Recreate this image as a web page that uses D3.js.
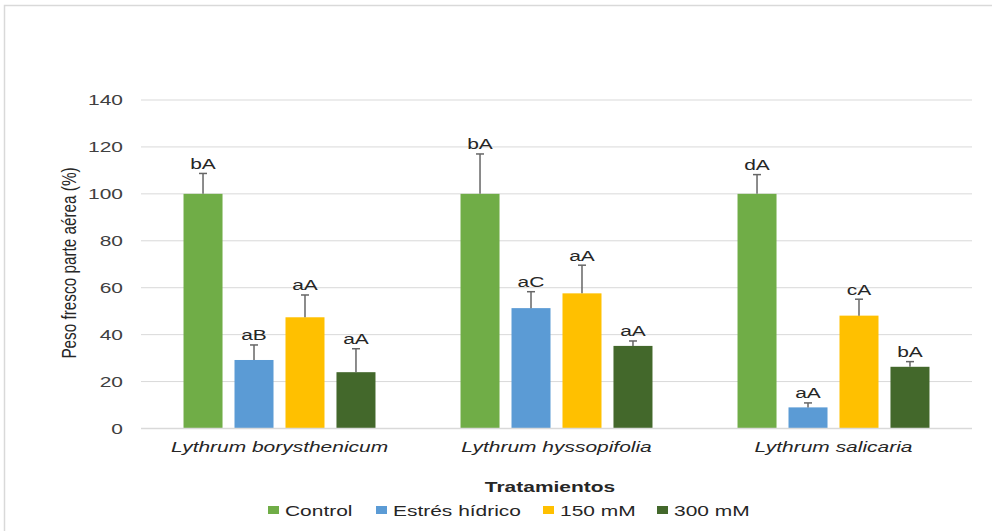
<!DOCTYPE html>
<html>
<head>
<meta charset="utf-8">
<script src="https://cdn.jsdelivr.net/npm/d3@7"></script>
<style>
  html, body { margin: 0; padding: 0; background: #fff; }
  svg { display: block; font-family: "Liberation Sans", Arial, sans-serif; }
</style>
</head>
<body>
<svg id="chart" width="992" height="531"></svg>
<script>
// Species (x groups) and treatments (series)
const species = ["Lythrum borysthenicum", "Lythrum hyssopifolia", "Lythrum salicaria"];
const treatments = ["Control", "Estrés hídrico", "150 mM", "300 mM"];
const colors = ["#70AD47", "#5B9BD5", "#FFC000", "#43682B"];

// Fresh weight of the aerial part (%) per treatment, one entry per species
const controlValues = [100, 100, 100];
const droughtValues = [29.2, 51.3, 9.0];
const salt150Values = [47.4, 57.6, 48.1];
const salt300Values = [24.0, 35.2, 26.3];

// Error bar sizes (upper)
const controlErr = [8.7, 17.0, 8.2];
const droughtErr = [6.4, 7.0, 1.9];
const salt150Err = [9.5, 12.0, 7.0];
const salt300Err = [10.0, 2.1, 2.2];

// Significance letters
const controlLetters = ["bA", "bA", "dA"];
const droughtLetters = ["aB", "aC", "aA"];
const salt150Letters = ["aA", "aA", "cA"];
const salt300Letters = ["aA", "aA", "bA"];

const yTicks = [0, 20, 40, 60, 80, 100, 120, 140];

const seriesValues = [controlValues, droughtValues, salt150Values, salt300Values];
const seriesErr = [controlErr, droughtErr, salt150Err, salt300Err];
const seriesLetters = [controlLetters, droughtLetters, salt150Letters, salt300Letters];

// Text is drawn horizontally widened
const SX = 1.36;
const FS = 15.4;
const TXT = "#262626";

const svg = d3.select("#chart");

// Outer chart frame (top and left edges)
svg.append("path")
  .attr("d", "M4.5,531 L4.5,5.5 L992,5.5")
  .attr("fill", "none")
  .attr("stroke", "#d9d9d9")
  .attr("stroke-width", 1.5);

const plot = { left: 141, right: 972, top: 100, bottom: 428.5 };

const y = d3.scaleLinear().domain([0, 140]).range([plot.bottom, plot.top]);
const x0 = d3.scaleBand().domain(species).range([plot.left, plot.right])
  .paddingInner(0.307).paddingOuter(0.1535);
const x1 = d3.scaleBand().domain(treatments).range([0, x0.bandwidth()])
  .paddingInner(0.235).paddingOuter(0);

// Helper: place a widened text at (x, y)
function wideText(parent, x, yy) {
  return parent.append("g")
    .attr("transform", `translate(${x},${yy}) scale(${SX},1)`)
    .append("text")
    .attr("font-size", FS)
    .attr("fill", TXT);
}

// Gridlines
svg.append("g")
  .selectAll("line")
  .data(yTicks.filter(t => t > 0))
  .join("line")
  .attr("x1", plot.left).attr("x2", plot.right)
  .attr("y1", d => y(d)).attr("y2", d => y(d))
  .attr("stroke", "#d9d9d9").attr("stroke-width", 1);

// Y axis tick labels
const yAxis = d3.axisLeft(y).tickValues(yTicks).tickSize(0).tickPadding(0);
const gy = svg.append("g").attr("transform", `translate(${plot.left - 18},0)`).call(yAxis);
gy.select(".domain").remove();
gy.selectAll("text")
  .attr("font-size", FS).attr("fill", "#404040")
  .attr("font-family", "Liberation Sans, Arial, sans-serif")
  .attr("transform", `scale(${SX},1)`);

// Bars
const rows = [];
species.forEach((sp, i) => {
  treatments.forEach((tr, j) => {
    rows.push({
      sp, tr, j,
      v: seriesValues[j][i],
      e: seriesErr[j][i],
      lab: seriesLetters[j][i]
    });
  });
});

svg.append("g")
  .selectAll("rect")
  .data(rows)
  .join("rect")
  .attr("x", d => x0(d.sp) + x1(d.tr))
  .attr("y", d => y(d.v))
  .attr("width", x1.bandwidth())
  .attr("height", d => y(0) - y(d.v))
  .attr("fill", d => colors[d.j]);

// Baseline axis
svg.append("line")
  .attr("x1", plot.left).attr("x2", plot.right)
  .attr("y1", y(0)).attr("y2", y(0))
  .attr("stroke", "#d9d9d9").attr("stroke-width", 1.5);

// Error bars
const eb = svg.append("g").attr("stroke", "#666").attr("stroke-width", 1.5);
rows.forEach(d => {
  const cx = x0(d.sp) + x1(d.tr) + x1.bandwidth() / 2;
  eb.append("line")
    .attr("x1", cx).attr("x2", cx)
    .attr("y1", y(d.v)).attr("y2", y(d.v + d.e));
  eb.append("line")
    .attr("x1", cx - 4).attr("x2", cx + 4)
    .attr("y1", y(d.v + d.e)).attr("y2", y(d.v + d.e));
});

// Significance letters
const lettersG = svg.append("g");
rows.forEach(d => {
  wideText(lettersG, x0(d.sp) + x1(d.tr) + x1.bandwidth() / 2, y(d.v + d.e) - 4.5)
    .attr("text-anchor", "middle")
    .text(d.lab);
});

// Species labels
const spG = svg.append("g");
species.forEach(sp => {
  wideText(spG, x0(sp) + x0.bandwidth() / 2, 452)
    .attr("text-anchor", "middle")
    .attr("font-style", "italic")
    .text(sp);
});

// Y axis title
svg.append("text")
  .attr("transform", `translate(76,263) scale(${SX},1) rotate(-90)`)
  .attr("text-anchor", "middle")
  .attr("font-size", 15.3)
  .attr("fill", TXT)
  .text("Peso fresco parte aérea (%)");

// Legend title
wideText(svg, 550, 492)
  .attr("text-anchor", "middle")
  .attr("font-weight", "bold")
  .text("Tratamientos");

// Legend entries
const legendX = [268, 376, 543, 657];
treatments.forEach((tr, i) => {
  const g = svg.append("g").attr("transform", `translate(${legendX[i]},510)`);
  g.append("rect")
    .attr("x", 0).attr("y", -4).attr("width", 11).attr("height", 8)
    .attr("fill", colors[i]);
  wideText(g, 17, 5.5).text(tr);
});
</script>
</body>
</html>
